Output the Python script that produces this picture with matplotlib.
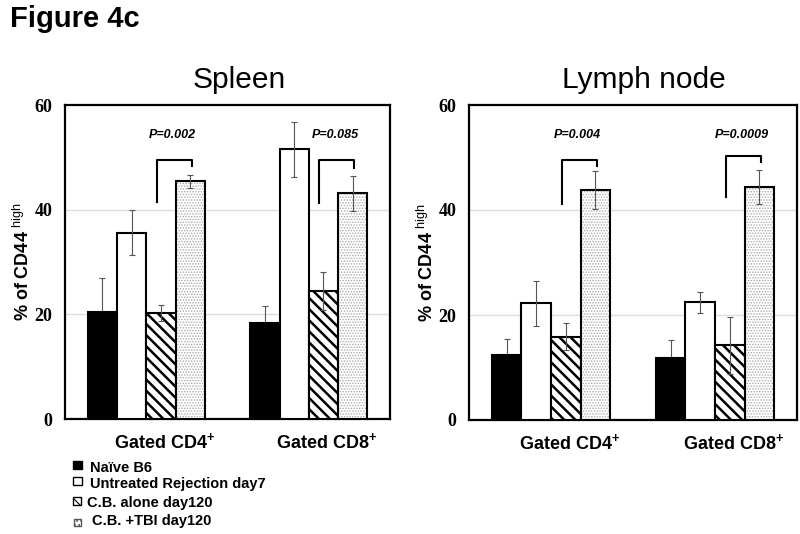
import matplotlib
matplotlib.use("Agg")
import matplotlib.pyplot as plt
from matplotlib.patches import Rectangle
import numpy as np

# data
groups = ["Gated CD4", "Gated CD8"]
series = ["Naïve B6", "Untreated Rejection day7", "C.B. alone day120", "C.B. +TBI day120"]

spleen_vals = [[20.5, 35.6, 20.3, 45.4],
               [18.4, 51.5, 24.4, 43.1]]
spleen_err = [[6.5, 4.3, 1.5, 1.2],
              [3.1, 5.2, 3.6, 3.3]]
lymph_vals = [[12.4, 22.2, 15.9, 43.8],
              [11.9, 22.4, 14.2, 44.4]]
lymph_err = [[3.0, 4.3, 2.5, 3.6],
             [3.3, 2.0, 5.4, 3.3]]

spleen_p = ["P=0.002", "P=0.085"]
lymph_p = ["P=0.004", "P=0.0009"]
# bracket heights: left leg bottom, top, right leg bottom
spleen_brackets = [[41.5, 49.5, 48.4], [41.2, 49.4, 47.9]]
lymph_brackets = [[41.2, 49.5, 48.4], [42.4, 50.3, 49.2]]

plt.rcParams['mathtext.fontset'] = 'custom'
plt.rcParams['mathtext.rm'] = 'Liberation Sans'
plt.rcParams['mathtext.bf'] = 'Liberation Sans:bold'

SANS = 'Liberation Sans'
SERIF = 'Liberation Serif'

fig = plt.figure(figsize=(8, 5.34), dpi=100)

W = 0.18
offsets = np.array([-1.5, -0.5, 0.5, 1.5]) * W
x = np.arange(len(groups))


def draw_bars(ax, xs, h, err, k):
    if k == 0:
        ax.bar(xs, h, W, color='black', edgecolor='black', lw=1.5, zorder=3)
    elif k == 1:
        ax.bar(xs, h, W, color='white', edgecolor='black', lw=1.5, zorder=3)
    elif k == 2:
        with plt.rc_context({'hatch.linewidth': 1.8}):
            ax.bar(xs, h, W, color='white', edgecolor='black', hatch='\\\\\\', lw=0, zorder=3)
        ax.bar(xs, h, W, fill=False, edgecolor='black', lw=1.5, zorder=3)
    else:
        with plt.rc_context({'hatch.linewidth': 0.7}):
            ax.bar(xs, h, W, color='white', edgecolor='#aaaaaa', hatch='......', lw=0, zorder=3)
        ax.bar(xs, h, W, fill=False, edgecolor='black', lw=1.5, zorder=3)
    ax.errorbar(xs, h, yerr=err, fmt='none', ecolor='#555555', elinewidth=0.8,
                capsize=2.5, capthick=0.8, zorder=2 if k == 0 else 4)


def panel(rect, vals, errs, pvals, brackets, title, title_x):
    ax = fig.add_axes(rect)
    vals = np.array(vals)
    errs = np.array(errs)
    for k in range(4):
        draw_bars(ax, x + offsets[k], vals[:, k], errs[:, k], k)
    ax.set_xlim(-0.5, 1.5)
    ax.set_ylim(0, 60)
    ax.set_yticks([0, 20, 40, 60])
    ax.set_xticks([])
    ax.tick_params(axis='y', length=0, pad=9)
    for lab in ax.get_yticklabels():
        lab.set_fontfamily(SERIF)
        lab.set_fontweight('bold')
        lab.set_fontsize(13)
    for y in [20, 40]:
        ax.axhline(y, color='#dddddd', lw=1, zorder=1)
    for s in ax.spines.values():
        s.set_linewidth(1.6)
    ax.set_ylabel('% of CD44$^{\\ \\mathrm{high}}$', fontfamily=SANS, fontweight='bold',
                  fontsize=13, labelpad=1)

    for i in range(len(groups)):
        xl = x[i] + offsets[2] - 0.025
        xr = x[i] + offsets[3] + 0.01
        b0, top, b1 = brackets[i]
        ax.plot([xl, xl, xr, xr], [b0, top, top, b1], color='black', lw=1.5, zorder=5)
        ax.text((xl + xr) / 2 - 0.01, 54.3, pvals[i], ha='center', va='center',
                fontfamily=SANS, fontweight='bold', fontstyle='italic', fontsize=9)
        ax.text(x[i] + 0.11, -5.6, groups[i] + '$^{\\mathbf{+}}$', ha='center',
                va='baseline', fontfamily=SANS, fontweight='bold', fontsize=13)

    fig.text(title_x, 1 - 88 / 534, title, ha='center', va='baseline',
             fontfamily=SANS, fontsize=21.5)
    return ax


panel([65 / 800, 1 - 419 / 534, 325 / 800, 314 / 534], spleen_vals, spleen_err,
      spleen_p, spleen_brackets, 'Spleen', 239 / 800)
panel([469 / 800, 1 - 420 / 534, 328 / 800, 315 / 534], lymph_vals, lymph_err,
      lymph_p, lymph_brackets, 'Lymph node', 644 / 800)

fig.text(10 / 800, 1 - 27 / 534, 'Figure 4c', ha='left', va='baseline',
         fontfamily=SANS, fontweight='bold', fontsize=21)

# legend drawn by hand under the left panel
leg_sq = [(73, 461, 9, 8), (73, 477, 9, 8), (73, 497, 8, 8), (74, 519, 7, 7)]
leg_txt = [(90, 471.5), (90, 488), (87, 506.5), (92, 524.5)]
styles = [dict(facecolor='black', edgecolor='black'),
          dict(facecolor='white', edgecolor='black'),
          dict(facecolor='white', edgecolor='black', hatch='\\\\\\\\'),
          dict(facecolor='white', edgecolor='#555555', hatch='....')]
for k in range(4):
    sx, sy, sw, sh = leg_sq[k]
    with plt.rc_context({'hatch.linewidth': 0.8}):
        rect = Rectangle((sx / 800, 1 - (sy + sh) / 534), sw / 800, sh / 534,
                         transform=fig.transFigure, lw=1, **styles[k])
    fig.patches.append(rect)
    tx, ty = leg_txt[k]
    fig.text(tx / 800, 1 - ty / 534, series[k], ha='left', va='baseline',
             fontfamily=SANS, fontweight='bold', fontsize=10.5)

fig.savefig('out.png', dpi=100)
